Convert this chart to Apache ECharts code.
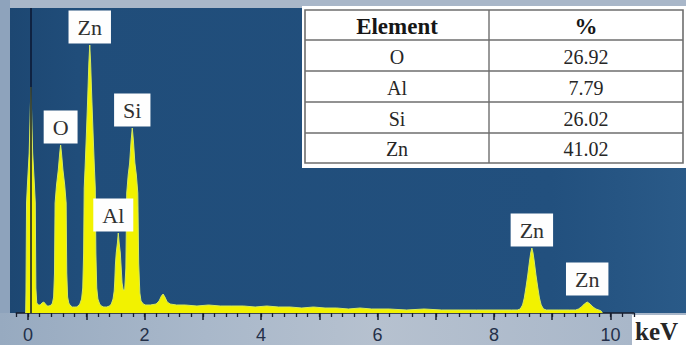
<!DOCTYPE html>
<html>
<head>
<meta charset="utf-8">
<script src="https://cdn.jsdelivr.net/npm/echarts@6/dist/echarts.min.js"></script>
<style>
  html, body { margin: 0; padding: 0; background: #a9b7c9; }
  #chart { width: 686px; height: 345px; }
</style>
</head>
<body>
<div id="chart"></div>
<script>
// EDS spectrum: energy (keV) vs counts, one array per spectral region
const zeroPeak = [
  [-0.04, 0], [-0.035, 20], [-0.025, 110], [-0.01, 128], [0.02, 160], [0.04, 205],
  [0.05, 226], [0.06, 205], [0.08, 160], [0.11, 128], [0.125, 110], [0.135, 25],
  [0.15, 10], [0.18, 8], [0.21, 8], [0.24, 10], [0.27, 11], [0.30, 9], [0.33, 7], [0.36, 7]
];
const oxygenPeak = [
  [0.40, 8], [0.42, 10], [0.44, 16], [0.455, 40], [0.465, 110], [0.49, 128], [0.52, 143],
  [0.545, 160], [0.56, 168], [0.575, 160], [0.60, 143], [0.63, 128], [0.655, 110],
  [0.665, 40], [0.68, 16], [0.70, 10], [0.72, 8], [0.76, 6], [0.80, 6], [0.83, 6]
];
const zincLPeak = [
  [0.86, 7], [0.89, 9], [0.92, 14], [0.94, 25], [0.955, 60], [0.965, 125], [0.98, 145],
  [1.00, 175], [1.025, 215], [1.045, 250], [1.06, 268], [1.075, 250], [1.095, 215],
  [1.12, 175], [1.14, 145], [1.155, 125], [1.165, 60], [1.18, 25], [1.20, 14], [1.23, 9],
  [1.26, 7], [1.30, 6], [1.35, 6]
];
const alSiPeaks = [
  [1.40, 7], [1.43, 9], [1.46, 14], [1.48, 22], [1.49, 32], [1.50, 48], [1.515, 60],
  [1.535, 70], [1.55, 80], [1.565, 70], [1.585, 60], [1.60, 45], [1.615, 30], [1.635, 23],
  [1.66, 23], [1.68, 45], [1.695, 120], [1.72, 138], [1.745, 150], [1.77, 172], [1.79, 185],
  [1.81, 172], [1.835, 150], [1.86, 138], [1.885, 120], [1.90, 50], [1.92, 20], [1.94, 12],
  [1.98, 9], [2.02, 8]
];
const continuum = [
  [2.10, 8], [2.20, 9], [2.25, 12], [2.29, 17], [2.32, 19], [2.35, 16], [2.39, 11], [2.44, 9],
  [2.55, 8], [2.70, 8], [2.90, 7], [3.10, 8], [3.30, 7], [3.50, 7], [3.70, 7], [3.90, 6],
  [4.10, 7], [4.30, 6], [4.50, 6], [4.70, 5], [4.90, 6], [5.10, 5], [5.30, 5], [5.50, 4],
  [5.70, 5], [5.90, 4], [6.20, 4], [6.50, 3], [6.80, 4], [7.10, 3], [7.40, 3], [7.70, 3],
  [8.00, 3], [8.30, 3]
];
const zincKPeaks = [
  [8.40, 3], [8.45, 4], [8.49, 8], [8.52, 15], [8.55, 26], [8.58, 38], [8.61, 52], [8.63, 60],
  [8.65, 65], [8.67, 60], [8.69, 52], [8.72, 38], [8.75, 26], [8.78, 15], [8.81, 8], [8.85, 4],
  [8.90, 3], [9.10, 3], [9.30, 3], [9.40, 3], [9.45, 4], [9.50, 6], [9.55, 9], [9.60, 11],
  [9.65, 9], [9.70, 6], [9.75, 4], [9.80, 3], [9.84, 2], [9.86, 0]
];

// Peak identification labels
const peakNames = ['O', 'Zn', 'Al', 'Si', 'Zn', 'Zn'];
const peakEnergies = [0.56, 1.06, 1.55, 1.79, 8.65, 9.60];
const peakCounts = [168, 268, 80, 185, 65, 11];

// Energy axis
const tickLabels = [0, 2, 4, 6, 8, 10];
const axisUnit = 'keV';

// Composition table
const tableHeader = ['Element', '%'];
const tableElements = ['O', 'Al', 'Si', 'Zn'];
const tablePercents = ['26.92', '7.79', '26.02', '41.02'];

const spectrum = [].concat(zeroPeak, oxygenPeak, zincLPeak, alSiPeaks, continuum, zincKPeaks);

const minorTicks = [];
for (let i = -1; i <= 52; i++) minorTicks.push(+(i * 0.2).toFixed(1));
const majorTicks = [];
for (let i = 0; i <= 10; i++) majorTicks.push(i);

const axisColor = '#161c2c';
const serif = 'Liberation Serif';

// table geometry
const tLeft = 305, tRight = 683, tMid = 489;
const rowLines = [10, 40, 71, 102, 133, 163];

const tableGraphics = [
  { type: 'rect', shape: { x: 302, y: 6, width: 384, height: 162 }, style: { fill: '#ffffff' } },
  { type: 'rect', shape: { x: tLeft, y: rowLines[0], width: tRight - tLeft, height: rowLines[5] - rowLines[0] },
    style: { fill: 'none', stroke: '#6e6e6e', lineWidth: 1.6 } },
  { type: 'line', shape: { x1: tMid, y1: rowLines[0], x2: tMid, y2: rowLines[5] },
    style: { stroke: '#6e6e6e', lineWidth: 1.4 } }
];
for (let i = 1; i < rowLines.length - 1; i++) {
  tableGraphics.push({ type: 'line', shape: { x1: tLeft, y1: rowLines[i], x2: tRight, y2: rowLines[i] },
    style: { stroke: '#6e6e6e', lineWidth: 1.4 } });
}
const colCenters = [(tLeft + tMid) / 2, (tMid + tRight) / 2];
tableHeader.forEach((h, c) => {
  tableGraphics.push({ type: 'text', x: colCenters[c], y: (rowLines[0] + rowLines[1]) / 2 + 1,
    style: { text: h, fill: '#161616', fontFamily: serif, fontWeight: 'bold', fontSize: 23,
      align: 'center', verticalAlign: 'middle' } });
});
tableElements.forEach((el, r) => {
  const cy = (rowLines[r + 1] + rowLines[r + 2]) / 2 + 1;
  [el, tablePercents[r]].forEach((t, c) => {
    tableGraphics.push({ type: 'text', x: colCenters[c], y: cy,
      style: { text: t, fill: '#262626', fontFamily: serif, fontSize: 20,
        align: 'center', verticalAlign: 'middle' } });
  });
});

const chart = echarts.init(document.getElementById('chart'), null, { renderer: 'svg', width: 686, height: 345 });

chart.setOption({
  animation: false,
  backgroundColor: '#a9b7c9',
  grid: { left: 16.35, right: 52.2, top: 8, bottom: 32, show: false, outerBoundsMode: 'none', containLabel: false },
  xAxis: [
    {
      type: 'value', min: -0.2, max: 10.4, position: 'bottom',
      axisLine: { show: true, lineStyle: { color: axisColor, width: 1.6 } },
      axisTick: { show: true, customValues: majorTicks, length: 7, lineStyle: { color: axisColor, width: 1.5 } },
      axisLabel: { customValues: tickLabels, margin: 13, color: '#243049',
        fontFamily: 'Liberation Sans', fontSize: 18 },
      splitLine: { show: false }
    },
    {
      type: 'value', min: -0.2, max: 10.4, position: 'bottom',
      axisLine: { show: false },
      axisTick: { show: true, customValues: minorTicks, length: 4, lineStyle: { color: axisColor, width: 1.3 } },
      axisLabel: { show: false },
      splitLine: { show: false }
    }
  ],
  yAxis: { type: 'value', min: 0, max: 305, show: false },
  graphic: [
    { type: 'rect', z: -10, shape: { x: 0, y: 0, width: 10, height: 313 }, style: { fill: '#8ea3bc' } },
    { type: 'rect', z: -10, shape: { x: 0, y: 313, width: 686, height: 32 },
      style: { fill: { type: 'linear', x: 0, y: 0, x2: 1, y2: 0,
        colorStops: [{ offset: 0, color: '#97aac0' }, { offset: 0.3, color: '#a9b8ca' },
                     { offset: 0.55, color: '#b6c1cf' }, { offset: 1, color: '#a6b5c8' }] } } },
    { type: 'rect', z: -10, shape: { x: 10, y: 8, width: 676, height: 305 },
      style: { fill: { type: 'linear', x: 0, y: 0, x2: 1, y2: 0,
        colorStops: [{ offset: 0, color: '#1d4772' }, { offset: 0.1, color: '#204d7a' },
                     { offset: 0.8, color: '#22507e' }, { offset: 1, color: '#2a5a88' }] } } },
    { type: 'group', z: 100, children: tableGraphics },
    { type: 'group', z: 100, children: [
      { type: 'rect', shape: { x: 632, y: 315, width: 54, height: 30 }, style: { fill: '#ffffff' } },
      { type: 'text', x: 635, y: 331, style: { text: axisUnit, fill: '#262626', fontFamily: serif,
        fontWeight: 'bold', fontSize: 25, align: 'left', verticalAlign: 'middle' } }
    ] }
  ],
  series: [
    {
      type: 'line', data: spectrum, xAxisIndex: 0, symbol: 'none', z: 3,
      lineStyle: { color: '#d6ea5c', width: 1 },
      areaStyle: { color: '#f2f200', opacity: 1 },
      markLine: {
        silent: true, symbol: ['none', 'none'], label: { show: false },
        lineStyle: { color: '#0b1630', width: 1.5, type: 'solid' },
        data: [{ xAxis: 0.035 }]
      }
    },
    {
      type: 'scatter', xAxisIndex: 0, z: 5, symbolSize: 1,
      itemStyle: { color: 'rgba(0,0,0,0)', opacity: 1 },
      data: peakNames.map((n, i) => {
        const item = { name: n, value: [peakEnergies[i], peakCounts[i]] };
        if (i === 2) item.label = { offset: [-5, 0] };
        if (i === 5) item.label = { distance: 6 };
        return item;
      }),
      label: {
        show: true, position: 'top', distance: 1, formatter: '{b}',
        backgroundColor: '#fefefe', color: '#303030', fontFamily: serif, fontSize: 22,
        lineHeight: 22, padding: [6, 9, 5, 9], opacity: 1
      }
    }
  ]
});
</script>
</body>
</html>
